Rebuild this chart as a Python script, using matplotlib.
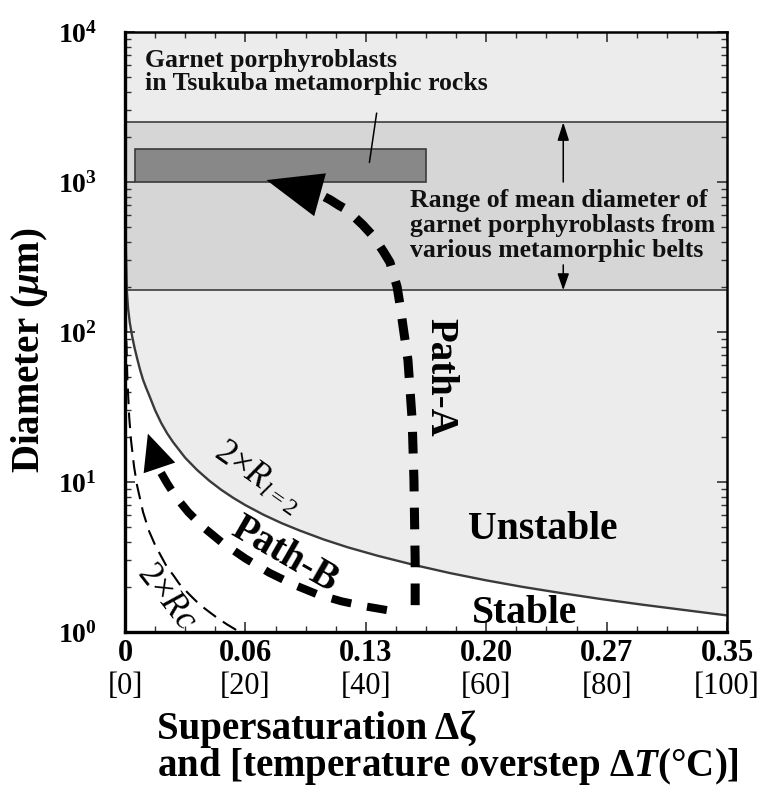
import matplotlib
matplotlib.use("Agg")
import matplotlib.pyplot as plt
from matplotlib.patches import Rectangle
from matplotlib.ticker import FixedLocator, MultipleLocator, LogLocator, NullFormatter

plt.rcParams['font.family'] = ['Liberation Serif', 'DejaVu Serif']
plt.rcParams['mathtext.fontset'] = 'custom'
plt.rcParams['mathtext.rm'] = 'Liberation Serif'
plt.rcParams['mathtext.it'] = 'Liberation Serif:italic:bold'
plt.rcParams['mathtext.bf'] = 'Liberation Serif:bold'
plt.rcParams['mathtext.sf'] = 'Liberation Serif:italic'

# ---- axis labels / ticks ----
temp_ticks = [0, 20, 40, 60, 80, 100]
supersat_labels = ["0", "0.06", "0.13", "0.20", "0.27", "0.35"]
temp_labels = ["[0]", "[20]", "[40]", "[60]", "[80]", "[100]"]
diam_ticks = [1, 10, 100, 1000, 10000]
diam_labels = [r"$\mathbf{10^{0}}$", r"$\mathbf{10^{1}}$", r"$\mathbf{10^{2}}$",
               r"$\mathbf{10^{3}}$", r"$\mathbf{10^{4}}$"]

# ---- stability boundary 2 x R_{l=2} (temperature overstep degC, diameter um) ----
rl2_dT = [0.02, 0.06, 0.15, 0.3, 0.5, 0.8, 1.2, 1.6, 2.0, 2.5, 3.0, 3.5, 4.0,
          5.0, 6.0, 7.0, 8.0, 10.0, 12.0, 14.0, 16.0, 18.0, 20.0, 23.0, 26.0,
          29.0, 33.0, 37.0, 42.0, 48.0, 54.0, 60.0, 66.0, 72.0, 79.0, 86.0,
          93.0, 100.0]
rl2_D = [10000, 1000, 350, 190, 145, 115, 93, 78, 67, 56, 48, 42.5, 38,
         30.1, 24.8, 21.1, 18.4, 14.5, 12.0, 10.2, 8.86, 7.83, 7.01, 6.05, 5.32,
         4.75, 4.14, 3.67, 3.22, 2.80, 2.47, 2.21, 2.00, 1.83, 1.66, 1.52,
         1.40, 1.29]

# ---- critical nucleus 2 x Rc ----
rc_dT = [0.004, 0.02, 0.05, 0.1, 0.2, 0.4, 0.7, 1.0, 1.5, 2.0, 3.0, 4.0, 5.0,
         6.0, 7.0, 8.0, 9.0, 10.0, 11.0, 12.0, 13.0, 14.0, 15.0, 16.0, 17.0,
         18.0, 19.0, 20.0, 21.0]
rc_D = [5000, 1000, 380, 190, 95, 48, 27, 19, 12.7, 9.5, 6.3, 4.7, 3.8,
        3.2, 2.7, 2.4, 2.1, 1.9, 1.73, 1.58, 1.46, 1.36, 1.27, 1.19, 1.12,
        1.06, 1.0, 0.95, 0.9]

# ---- growth paths ----
pathA_dT = [48.2, 48.2, 48.0, 47.7, 47.0, 46.2, 45.7, 45.2, 44.0, 43.0, 42.0,
            40.9, 39.5, 38.2, 36.9, 35.5, 34.1, 32.6]
pathA_D = [1.51, 3.0, 10.3, 25.9, 65, 108, 150, 200, 292, 340, 392,
           450, 518, 580, 651, 700, 760, 818]
pathA_tip = (23.5, 1030)

pathB_dT = [43.5, 40.0, 36.0, 32.0, 28.0, 24.0, 20.0, 16.0, 13.0, 10.5, 8.5,
            7.0, 6.0]
pathB_D = [1.40, 1.48, 1.60, 1.78, 2.07, 2.48, 3.09, 3.98, 5.0, 6.3, 7.9,
           9.8, 11.5]
pathB_tip = (3.8, 21)

# ---- reference ranges ----
belt_range_D = [190, 2500]
tsukuba_dT = [1.6, 50.0]
tsukuba_D = [1000, 1650]

W, H = 771, 787
fig = plt.figure(figsize=(W / 100, H / 100), dpi=100)
ax = fig.add_axes([125 / W, 155 / H, 602 / W, 600 / H])


def fpos(x, y):
    return x / W, 1 - y / H


ax.set_yscale('log')
ax.set_xlim(0, 100)
ax.set_ylim(1, 10000)
ax.set_facecolor('#ececec')

# mean diameter band of metamorphic belts
ax.axhspan(belt_range_D[0], belt_range_D[1], fc='#d6d6d6', ec='none', zorder=1)
for d in belt_range_D:
    ax.axhline(d, color='#4a4a4a', lw=1.3, zorder=1.2)

# stable field below the boundary
ax.fill_between(rl2_dT, 0.5, rl2_D, color='white', zorder=1.5, lw=0)
ax.plot(rl2_dT, rl2_D, color='#3a3a3a', lw=1.7, zorder=3)

# Tsukuba garnet box
ax.add_patch(Rectangle((tsukuba_dT[0], tsukuba_D[0]),
                       tsukuba_dT[1] - tsukuba_dT[0], tsukuba_D[1] - tsukuba_D[0],
                       fc='#888888', ec='#3a3a3a', lw=1.2, zorder=2))

# 2 x Rc
ax.plot(rc_dT, rc_D, color='k', lw=1.5, ls=(0, (7.5, 4.0)), zorder=3)

# Path-A
ax.plot(pathA_dT, pathA_D, color='k', lw=6.5, ls=(0, (2.4, 1.8)),
        dash_capstyle='butt', dash_joinstyle='round', zorder=4)
ax.annotate('', xy=pathA_tip, xytext=(pathA_dT[-1], pathA_D[-1]),
            arrowprops=dict(arrowstyle='-|>,head_length=4.0,head_width=1.6',
                            mutation_scale=10, fc='k', ec='k', lw=0,
                            shrinkA=0, shrinkB=0), zorder=5)

# Path-B
ax.plot(pathB_dT, pathB_D, color='k', lw=5.8, ls=(0, (2.5, 2.0)),
        dash_capstyle='butt', dash_joinstyle='round', zorder=4)
ax.annotate('', xy=pathB_tip, xytext=(pathB_dT[-1], pathB_D[-1]),
            arrowprops=dict(arrowstyle='-|>,head_length=2.6,head_width=1.2',
                            mutation_scale=10, fc='k', ec='k', lw=0,
                            shrinkA=0, shrinkB=0), zorder=5)

# range arrows
ax.annotate('', xy=(72.8, belt_range_D[1]), xytext=(72.8, 1000),
            arrowprops=dict(arrowstyle='-|>,head_length=1.1,head_width=0.35',
                            mutation_scale=10, fc='k', ec='k', lw=1.1,
                            shrinkA=0, shrinkB=0), zorder=5)
ax.annotate('', xy=(72.8, belt_range_D[0]), xytext=(72.8, 280),
            arrowprops=dict(arrowstyle='-|>,head_length=1.0,head_width=0.35',
                            mutation_scale=10, fc='k', ec='k', lw=1.1,
                            shrinkA=0, shrinkB=0), zorder=5)
# leader to the Tsukuba box
ax.annotate('', xy=(40.6, 1350), xytext=(41.8, 2880),
            arrowprops=dict(arrowstyle='-', color='k', lw=1.1,
                            shrinkA=0, shrinkB=0), zorder=5)

# ---- axes styling ----
ax.xaxis.set_major_locator(FixedLocator(temp_ticks))
ax.xaxis.set_minor_locator(MultipleLocator(5))
ax.set_xticklabels(supersat_labels, fontsize=22, fontweight='bold')
ax.yaxis.set_major_locator(FixedLocator(diam_ticks))
ax.yaxis.set_minor_locator(LogLocator(base=10, subs=range(2, 10)))
ax.yaxis.set_minor_formatter(NullFormatter())
ax.set_yticklabels(diam_labels, fontsize=20)
ax.tick_params(which='both', direction='in', top=True, right=True, color='#333')
ax.tick_params(which='major', length=7, width=1.2)
ax.tick_params(which='minor', length=4, width=1.0)
ax.tick_params(axis='x', which='major', pad=5)
ax.tick_params(axis='y', which='major', pad=20)
for side in ['left', 'bottom']:
    ax.spines[side].set_linewidth(2.4)
for side in ['top', 'right']:
    ax.spines[side].set_linewidth(1.8)
for s in ax.spines.values():
    s.set_zorder(6)

for t, lab in zip(temp_ticks, temp_labels):
    ax.text(t, -0.09, lab, transform=ax.get_xaxis_transform(), ha='center',
            va='center', fontsize=22)

# ---- labels ----
fig.text(*fpos(30, 350), r"Diameter ($\mu$m)", rotation=90, ha='center',
         va='center', fontsize=28, fontweight='bold')
fig.text(*fpos(157, 739), "Supersaturation Δζ", ha='left', va='baseline',
         fontsize=28, fontweight='bold')
fig.text(*fpos(157, 776), r"and [temperature overstep Δ$T$(°C)]", ha='left',
         va='baseline', fontsize=28, fontweight='bold')

# in-plot annotations
fig.text(*fpos(145, 67), "Garnet porphyroblasts", fontsize=18.5,
         fontweight='bold', va='baseline', color='#111')
fig.text(*fpos(145, 90), "in Tsukuba metamorphic rocks", fontsize=18.5,
         fontweight='bold', va='baseline', color='#111')
for yb, line in zip([207, 232, 257], ["Range of mean diameter of",
                                      "garnet porphyroblasts from",
                                      "various metamorphic belts"]):
    fig.text(*fpos(410, yb), line, fontsize=18.5, fontweight='bold',
             va='baseline', color='#111')

fig.text(*fpos(440, 377), "Path-A", rotation=-90, ha='center', va='center',
         fontsize=28, fontweight='bold', rotation_mode='anchor')
fig.text(*fpos(285, 555), "Path-B", rotation=-30, ha='center', va='center',
         fontsize=28, fontweight='bold', rotation_mode='anchor')
fig.text(*fpos(258, 478), r"2×$\mathsf{R}_{\mathsf{l}=2}$", rotation=-35,
         ha='center', va='center', fontsize=25, rotation_mode='anchor')
fig.text(*fpos(166, 597), r"2×$\mathsf{Rc}$", rotation=-52, ha='center',
         va='center', fontsize=25, rotation_mode='anchor')
fig.text(*fpos(468, 539), "Unstable", ha='left', va='baseline', fontsize=28.5,
         fontweight='bold')
fig.text(*fpos(472, 623), "Stable", ha='left', va='baseline', fontsize=28.5,
         fontweight='bold')

fig.savefig("out.png", dpi=100)
